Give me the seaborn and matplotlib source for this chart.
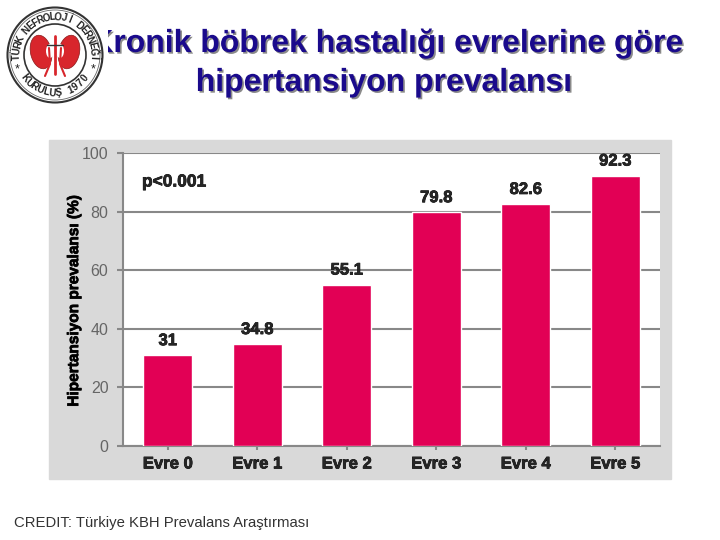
import numpy as np
import pandas as pd
import matplotlib
matplotlib.use("Agg")
import matplotlib.pyplot as plt
import matplotlib.patheffects as pe
from matplotlib.patches import Circle, Ellipse, Rectangle
import seaborn as sns

stages = ["Evre 0", "Evre 1", "Evre 2", "Evre 3", "Evre 4", "Evre 5"]
prevalence = [31, 34.8, 55.1, 79.8, 82.6, 92.3]
value_labels = ["31", "34.8", "55.1", "79.8", "82.6", "92.3"]
y_ticks = [0, 20, 40, 60, 80, 100]

W, H = 720, 540
sns.set_style("white")
plt.rcParams["font.family"] = ["Liberation Sans", "DejaVu Sans"]

data = pd.DataFrame({"evre": stages, "oran": prevalence})

fig = plt.figure(figsize=(7.2, 5.4), dpi=100, facecolor="white")


def box(x0, y0, x1, y1):
    # pixel box (top-left origin) to figure fraction
    return [x0 / W, 1 - y1 / H, (x1 - x0) / W, (y1 - y0) / H]


# grey panel behind the chart
fig.add_artist(Rectangle((49 / W, 1 - 479 / H), 622 / W, 339 / H,
                         transform=fig.transFigure, color="#d9d9d9", zorder=0))

ax = fig.add_axes(box(123, 153, 660, 446), facecolor="white", zorder=1)
sns.barplot(data=data, x="evre", y="oran", color="#e20055", width=0.545,
            saturation=1, ax=ax, zorder=3)
ax.set_ylim(0, 100)
ax.set_xlim(-0.5, 5.5)
ax.set_yticks(y_ticks)
ax.yaxis.grid(True, color="#888888", lw=1.5)
ax.set_axisbelow(True)
for s in ["top", "right"]:
    ax.spines[s].set_visible(False)
for s in ["left", "bottom"]:
    ax.spines[s].set_color("#888888")
    ax.spines[s].set_linewidth(1.5)
ax.tick_params(axis="y", length=4.5, width=1.5, color="#888888", labelsize=11.5,
               labelcolor="#666666", pad=6, left=True)
ax.tick_params(axis="x", length=3, width=1.5, color="#888888", pad=4.5, bottom=True)
ax.set_xlabel("")
ax.set_ylabel("Hipertansiyon prevalansı (%)", fontsize=11.1, fontweight="bold", color="black")
ax.yaxis.set_label_coords(-0.078, 0.495)
thick = [pe.withStroke(linewidth=0.5, foreground="black")]
for lab in ax.get_xticklabels():
    lab.set_fontsize(12)
    lab.set_fontweight("bold")
    lab.set_path_effects(thick)
ax.yaxis.label.set_path_effects(thick)

for i, (v, t) in enumerate(zip(prevalence, value_labels)):
    ax.annotate(t, (i, v), xytext=(0, 14.5 * 0.72), textcoords="offset points",
                ha="center", va="center", fontsize=12, fontweight="bold",
                path_effects=thick, zorder=5)
ax.annotate("p<0.001", (0, 1), xycoords="axes fraction", xytext=(19 * 0.72, -29 * 0.72),
            textcoords="offset points", ha="left", va="center", fontsize=12.5,
            fontweight="bold", path_effects=thick)

# title, shadow done with a path effect
shadow = [pe.withSimplePatchShadow(offset=(1.2, -1.2), shadow_rgbFace="#8a8a8a", alpha=1)]
fig.text(387 / W, 1 - 44 / H, "Kronik böbrek hastalığı evrelerine göre", ha="center", va="center",
         fontsize=23, fontweight="bold", color="#1a0a8c", zorder=2, path_effects=shadow)
fig.text(384 / W, 1 - 83 / H, "hipertansiyon prevalansı", ha="center", va="center",
         fontsize=23, fontweight="bold", color="#1a0a8c", zorder=2, path_effects=shadow)

fig.text(14 / W, 1 - 523 / H, "CREDIT: Türkiye KBH Prevalans Araştırması",
         ha="left", va="center", fontsize=10.7, color="#333333")

# logo, sits over the K of the title
logo = fig.add_axes(box(0, 0, 108, 108), zorder=4)
logo.set_xlim(-54, 54)
logo.set_ylim(-54, 54)
logo.set_aspect("equal")
logo.axis("off")
logo.add_patch(Rectangle((-54, -54), 108, 108, color="white"))
logo.add_patch(Circle((1, -1), 47.5, fc="white", ec="#333333", lw=1.5))
logo.add_patch(Circle((1, -1), 45, fc="white", ec="#666666", lw=0.6))
logo.add_patch(Circle((1, -1), 31, fc="white", ec="#333333", lw=1.2))
for cx, ang in [(-13, 12), (15, -12)]:
    logo.add_patch(Ellipse((cx, 2), 21, 34, angle=ang, fc="#d8262c", ec="#8a1a1a", lw=0.5))
for cx in [-4, 6]:
    logo.add_patch(Ellipse((cx, 3), 8, 14, fc="white", ec="none"))
logo.plot([1, 1], [-20, 18], color="#d8262c", lw=2)
logo.plot([-5, -4, -9], [6, -10, -22], color="#d8262c", lw=1.5)
logo.plot([7, 6, 11], [6, -10, -22], color="#d8262c", lw=1.5)
logo.plot([-7, 9], [9, 9], color="#333333", lw=1)


def ring_text(txt, a0, a1, r, flip=False):
    for ch, a in zip(txt, np.linspace(a0, a1, len(txt))):
        rad = np.deg2rad(a)
        rot = a + 90 if flip else a - 90
        logo.text(1 + r * np.cos(rad), -1 + r * np.sin(rad), ch, rotation=rot, ha="center",
                  va="center", fontsize=7, fontweight="bold", color="#222222",
                  rotation_mode="anchor")


ring_text("TÜRK NEFROLOJİ DERNEĞİ", 183, -3, 38)
ring_text("KURULUŞ 1970", 218, 322, 38, flip=True)
logo.text(-37, -15, "*", fontsize=9, ha="center", va="center", color="#222222")
logo.text(39, -15, "*", fontsize=9, ha="center", va="center", color="#222222")

fig.savefig("out.png", dpi=100)
